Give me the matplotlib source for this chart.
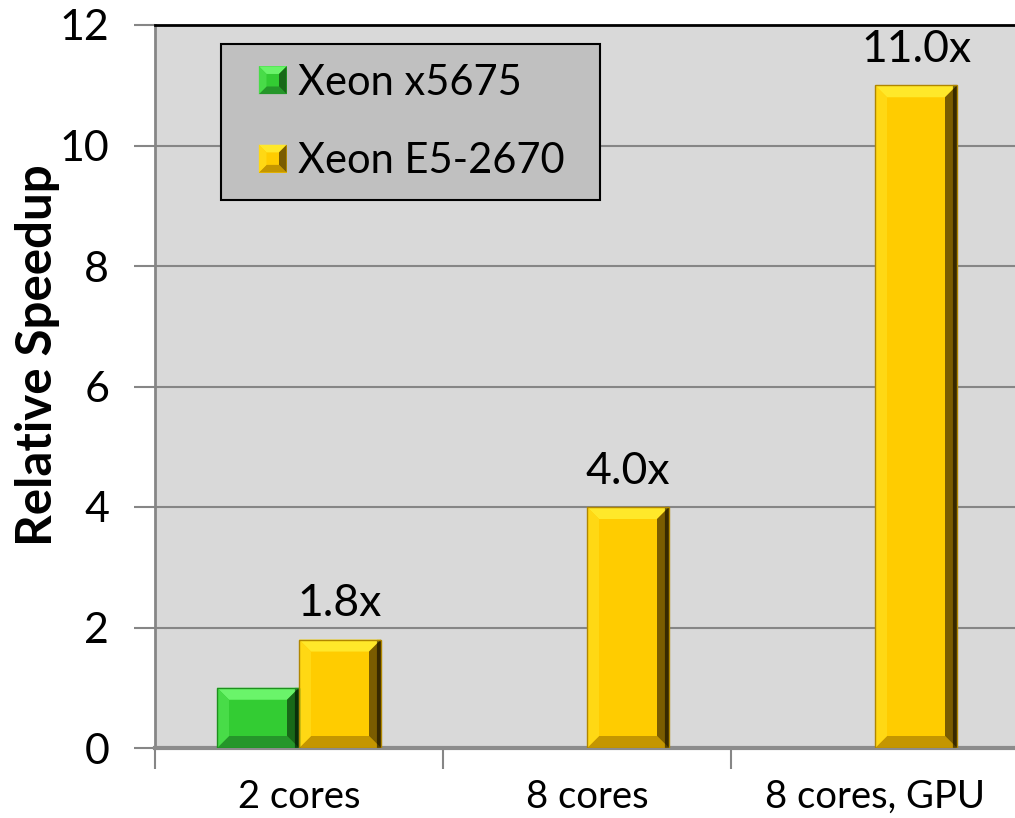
import matplotlib as mpl
import matplotlib.pyplot as plt
from matplotlib.patches import Polygon, Patch, Rectangle
from matplotlib.legend_handler import HandlerBase
import numpy as np

# speedup values per configuration
categories = ['2 cores', '8 cores', '8 cores, GPU']
series_names = ['Xeon x5675', 'Xeon E5-2670']
xeon_x5675 = [1.0, 0.0, 0.0]
xeon_e5_2670 = [1.8, 4.0, 11.0]
value_labels = ['1.8x', '4.0x', '11.0x']

plt.rcParams['font.family'] = ['Lato', 'DejaVu Sans']

W, H = 1015, 818
fig = plt.figure(figsize=(W / 100, H / 100), dpi=100)
ax_l, ax_b, ax_w, ax_h = 155 / W, 70 / H, 860 / W, 723 / H
ax = fig.add_axes([ax_l, ax_b, ax_w, ax_h])
ax.set_facecolor('#d9d9d9')

xmin, xmax = -0.5, 2.5 - 4 / 288
ymin, ymax = 0, 12
ax.set_xlim(xmin, xmax)
ax.set_ylim(ymin, ymax)

x = np.arange(len(categories))
bw = 82 / 288
green = dict(face='#33cc33', top='#6af46a', left='#48dc48', bottom='#25962a', right='#186818', edge='#1f8f1f')
yellow = dict(face='#ffcc00', top='#ffe82a', left='#ffd814', bottom='#c49600', right='#7a5c00', edge='#b08600')

bars_g = ax.bar(x - bw / 2, xeon_x5675, bw, color=green['face'], zorder=3)
bars_y = ax.bar(x + bw / 2, xeon_e5_2670, bw, color=yellow['face'], zorder=3)

# bevel size in data units (fixed pixel size)
px_x = (xmax - xmin) / 860
px_y = (ymax - ymin) / 723
dx, dy = 12 * px_x, 12 * px_y


def bevel_polys(x0, y0, x1, y1, bx, by):
    return {
        'top': [(x0, y1), (x1, y1), (x1 - bx, y1 - by), (x0 + bx, y1 - by)],
        'bottom': [(x0, y0), (x1, y0), (x1 - bx, y0 + by), (x0 + bx, y0 + by)],
        'left': [(x0, y0), (x0, y1), (x0 + bx, y1 - by), (x0 + bx, y0 + by)],
        'right': [(x1, y0), (x1, y1), (x1 - bx, y1 - by), (x1 - bx, y0 + by)],
    }


def bevel(bars, c):
    for p in bars.patches:
        h = p.get_height()
        if h <= 0:
            continue
        x0, x1 = p.get_x(), p.get_x() + p.get_width()
        y0, y1 = 0, h
        ddy = min(dy, h / 2)
        for k, pts in bevel_polys(x0, y0, x1, y1, dx, ddy).items():
            ax.add_patch(Polygon(pts, closed=True, facecolor=c[k], edgecolor='none', zorder=4))
        ax.plot([x1 - 2 * px_x, x1 - 2 * px_x], [y0, y1 - 2 * px_y], color='#000000', lw=3, alpha=0.55, zorder=5)
        ax.add_patch(Rectangle((x0, y0), x1 - x0, h, fill=False,
                               edgecolor=c['edge'], lw=1, zorder=5))


bevel(bars_g, green)
bevel(bars_y, yellow)

for xi, v, lab in zip(x, xeon_e5_2670, value_labels):
    ax.text(xi + bw / 2, v + 0.25, lab, ha='center', va='bottom', fontsize=32, zorder=6)

# grid and axes
ax.set_yticks(np.arange(0, 13, 2))
ax.yaxis.grid(True, color='#868686', lw=1.5, zorder=0)
ax.set_axisbelow(True)
ax.set_xticks(np.arange(-0.5, 2.5, 1.0), minor=False)
ax.set_xticklabels([])
ax.set_xticks(x, minor=True)
ax.set_xticklabels(categories, minor=True, fontsize=27.5)
ax.tick_params(axis='x', which='minor', length=0, pad=22)
ax.tick_params(axis='x', which='major', length=15, width=1.5, color='#868686')
ax.tick_params(axis='y', length=15, width=1.5, color='#868686', labelsize=31, pad=18)

ax.spines['left'].set_color('#868686')
ax.spines['left'].set_linewidth(2)
ax.spines['bottom'].set_color('#8c8c8c')
ax.spines['bottom'].set_linewidth(3)
ax.spines['top'].set_color('#000000')
ax.spines['top'].set_linewidth(2)
ax.spines['right'].set_visible(False)

ax.set_ylabel('Relative Speedup', fontsize=35.5, fontweight='bold')
ax.yaxis.set_label_coords(-0.1105, 0.544)


class BevelHandler(HandlerBase):
    """small pyramid-shaded square for the legend"""
    def __init__(self, colors):
        super().__init__()
        self.c = colors

    def create_artists(self, legend, orig_handle, xdescent, ydescent,
                       width, height, fontsize, trans):
        s = 20
        b = 5.5
        x0 = -xdescent + width - s
        y0 = -ydescent + (height - s) / 2
        arts = [Rectangle((x0, y0), s, s, facecolor=self.c['face'], edgecolor='none', transform=trans)]
        for k, pts in bevel_polys(x0, y0, x0 + s, y0 + s, b, b).items():
            arts.append(Polygon(pts, closed=True, facecolor=self.c[k], edgecolor='none', transform=trans))
        return arts


h_g = Patch(facecolor=green['face'])
h_y = Patch(facecolor=yellow['face'])
leg = ax.legend([h_g, h_y], series_names, loc='upper left', mode='expand',
                bbox_to_anchor=(0.077, 0.974 - 0.3, 379 / 860, 0.3),
                handler_map={h_g: BevelHandler(green), h_y: BevelHandler(yellow)},
                fontsize=30, frameon=True, fancybox=False, handlelength=1.09, handleheight=0.7,
                handletextpad=0.28, labelspacing=0.97, borderpad=0.48, borderaxespad=0)
leg.get_frame().set_facecolor('#c0c0c0')
leg.get_frame().set_edgecolor('#000000')
leg.get_frame().set_linewidth(1.5)
leg.get_frame().set_alpha(1)
leg.set_zorder(10)

fig.savefig('out.png', dpi=100)
